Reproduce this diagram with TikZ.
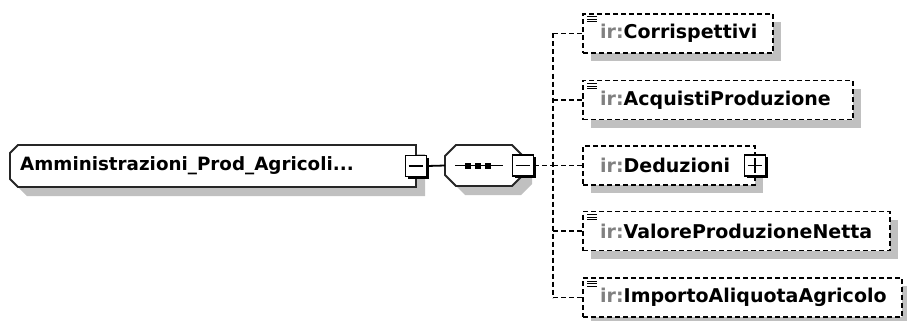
\documentclass[tikz,border=0pt]{standalone}
\usepackage{fontspec}
\setmainfont{DejaVu Sans}
\usetikzlibrary{shadows,calc}
\definecolor{shadowgray}{RGB}{192,192,192}
\definecolor{prefixgray}{RGB}{128,128,128}
\tikzset{
  frame/.style={inner sep=0pt, outer sep=0pt},
  outline/.style={draw=black!85, line width=1.8pt, fill=white,
    drop shadow={shadow xshift=9pt, shadow yshift=-9pt, fill=shadowgray, opacity=1}},
  childbox/.style={draw=black, line width=1.9pt, dash pattern=on 5pt off 3pt, fill=white,
    inner sep=0pt, outer sep=0pt, minimum height=39pt,
    drop shadow={shadow xshift=8pt, shadow yshift=-8pt, fill=shadowgray, opacity=1}},
  togglebox/.style={draw=black, line width=1.8pt, fill=white, minimum size=21pt, inner sep=0pt,
    drop shadow={shadow xshift=2pt, shadow yshift=-2pt, fill=black, opacity=1}},
  branch/.style={line width=1.9pt, dash pattern=on 5pt off 3pt},
  wire/.style={line width=1.8pt},
  elemlabel/.style={anchor=west, inner sep=0pt, font=\fontsize{19}{22}\selectfont\bfseries}
}
\newcommand{\Pfx}[1]{\textcolor{prefixgray}{#1}}
\newcommand{\CutOutline}[3]{%
  % #1 node, #2 cut on the left corners, #3 cut on the right corners
  \path[outline] ([yshift=-#2]#1.north west) -- ([xshift=#2]#1.north west)
    -- ([xshift=-#3]#1.north east) -- ([yshift=-#3]#1.north east)
    -- ([yshift=#3]#1.south east) -- ([xshift=-#3]#1.south east)
    -- ([xshift=#2]#1.south west) -- ([yshift=#2]#1.south west) -- cycle;
}
\newcommand{\Toggle}[3]{%
  % #1 name, #2 at, #3 plus (1) or minus (0)
  \node[togglebox] (#1) at (#2) {};
  \draw[wire] ([xshift=4pt]#1.west) -- ([xshift=-4pt]#1.east);
  \ifnum#3=1 \draw[wire] ([yshift=-4pt]#1.north) -- ([yshift=4pt]#1.south); \fi
}
\newcommand{\ChildElem}[5]{%
  % #1 name, #2 y, #3 width, #4 local name, #5 simple-content icon (1/0)
  \node[childbox, minimum width=#3pt, anchor=west] (#1) at (583,#2) {};
  \node[elemlabel] (#1txt) at ([xshift=17pt]#1.west) {\Pfx{ir:}#4};
  \ifnum#5=1
    \foreach \dy in {3,5.5,8}
      \draw[line width=1pt] ([xshift=4pt,yshift=-\dy pt]#1.north west) -- ++(10,0);
  \fi
  \draw[branch] (fork |- #1.west) -- (#1.west);
}

\begin{document}
\begin{tikzpicture}[x=1pt,y=-1pt]
  \useasboundingbox (0,0) rectangle (907,321);
  % root element
  \node[frame, minimum width=406pt, minimum height=42pt, anchor=west] (root) at (10,166) {};
  \CutOutline{root}{8pt}{0pt}
  \node[elemlabel, font=\fontsize{18.3}{22}\selectfont\bfseries] (roottxt)
    at ([xshift=10pt]root.west) {Amministrazioni\_Prod\_Agricoli...};
  \Toggle{rootminus}{root.east}{0}
  % sequence
  \node[frame, minimum width=78pt, minimum height=41pt, anchor=west] (seq) at (445,165.5) {};
  \CutOutline{seq}{11pt}{11pt}
  \draw[wire] (rootminus.east) -- (seq.west);
  \draw[wire] ([xshift=10pt]seq.west) -- ([xshift=58pt]seq.west);
  \foreach \dx in {23,33,43}
    \fill ([xshift=\dx pt]seq.west) ++(-3,-3) rectangle ++(6,6);
  \Toggle{seqminus}{seq.east}{0}
  \coordinate (fork) at (553,165.5);
  \draw[branch] (seqminus.east) -- (fork);
  % children
  \ChildElem{corr}{33.5}{190}{Corrispettivi}{1}
  \ChildElem{acq}{100}{270}{AcquistiProduzione}{1}
  \ChildElem{ded}{165.5}{172}{Deduzioni}{0}
  \ChildElem{val}{231}{307}{ValoreProduzioneNetta}{1}
  \ChildElem{imp}{297.5}{319}{ImportoAliquotaAgricolo}{1}
  \draw[branch] (fork |- corr.west) -- (fork |- imp.west);
  % collapsed content of Deduzioni
  \Toggle{dedplus}{ded.east}{1}
\end{tikzpicture}
\end{document}
